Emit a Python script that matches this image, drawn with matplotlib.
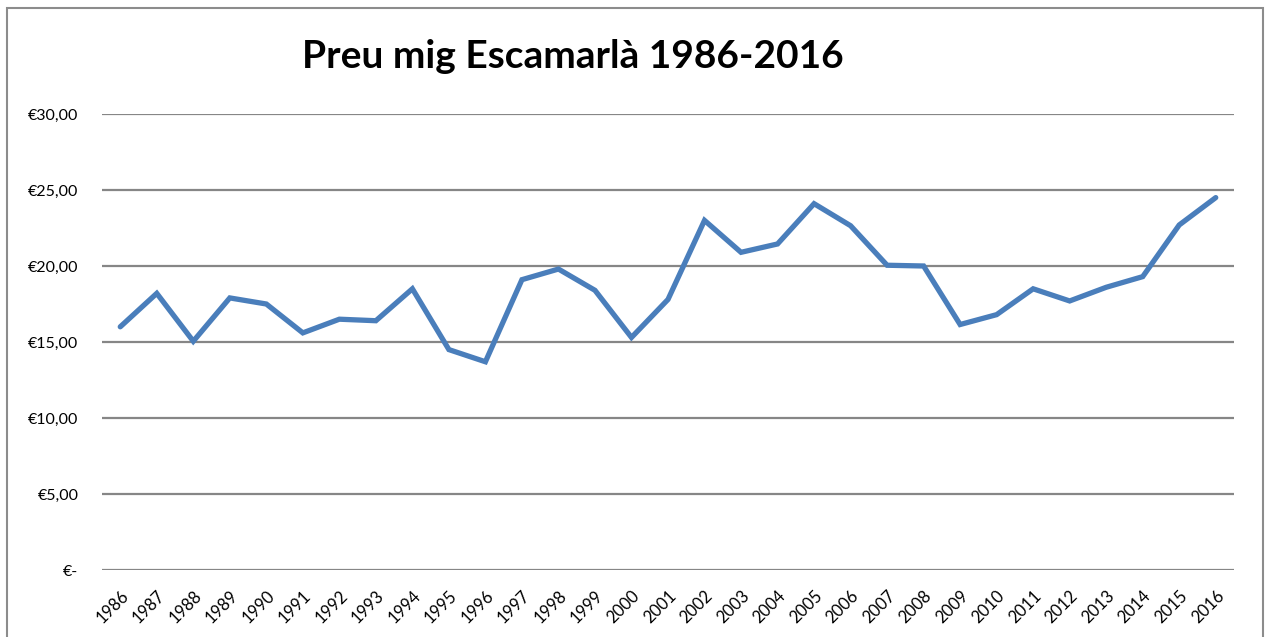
import matplotlib
matplotlib.use("Agg")
import matplotlib.pyplot as plt
from matplotlib.patches import Rectangle
from matplotlib.ticker import FuncFormatter

plt.rcParams["font.family"] = ["Lato", "DejaVu Sans"]

years = list(range(1986, 2017))
prices = [16.0, 18.2, 15.05, 17.9, 17.5, 15.6, 16.5, 16.4, 18.5, 14.5,
          13.7, 19.1, 19.8, 18.4, 15.3, 17.8, 23.0, 20.9, 21.45, 24.1,
          22.65, 20.05, 20.0, 16.15, 16.8, 18.5, 17.7, 18.6, 19.3, 22.7,
          24.5]
yticks = [0, 5, 10, 15, 20, 25, 30]
title = "Preu mig Escamarlà 1986-2016"

W, H = 1269, 637
fig = plt.figure(figsize=(W / 100, H / 100), dpi=100)
ax = fig.add_axes([102 / W, 1 - 570 / H, (1234 - 102) / W, (570 - 114) / H])

x = list(range(len(years)))
ax.plot(x, prices, color="#4a7ebb", lw=3.8, solid_joinstyle="miter",
        solid_capstyle="round", zorder=3)

ax.set_xlim(-0.5, len(years) - 0.5)
ax.set_ylim(0, 30)
ax.set_yticks(yticks)


def euro(v, _):
    if v == 0:
        return "€-"
    return "€" + f"{v:.2f}".replace(".", ",")


ax.yaxis.set_major_formatter(FuncFormatter(euro))
ax.grid(axis="y", color="#868686", lw=1.6)
ax.set_axisbelow(True)
for s in ax.spines.values():
    s.set_visible(False)
ax.tick_params(axis="y", length=0, pad=17, labelsize=11.5)
ax.tick_params(axis="x", length=0, pad=13, labelsize=12)
ax.set_xticks(x)
ax.set_xticklabels([str(y) for y in years], rotation=45, ha="right",
                   va="top", rotation_mode="anchor")

fig.text(573 / W, 1 - 68 / H, title, ha="center", va="baseline",
         fontsize=28, fontweight="bold")

fig.patches.append(Rectangle((7 / W, -0.05), (1263 - 7) / W, 1 - 8 / H + 0.05,
                             transform=fig.transFigure, fill=False,
                             edgecolor="#8c8c8c", lw=1.5))

fig.savefig("out.png", dpi=100)
